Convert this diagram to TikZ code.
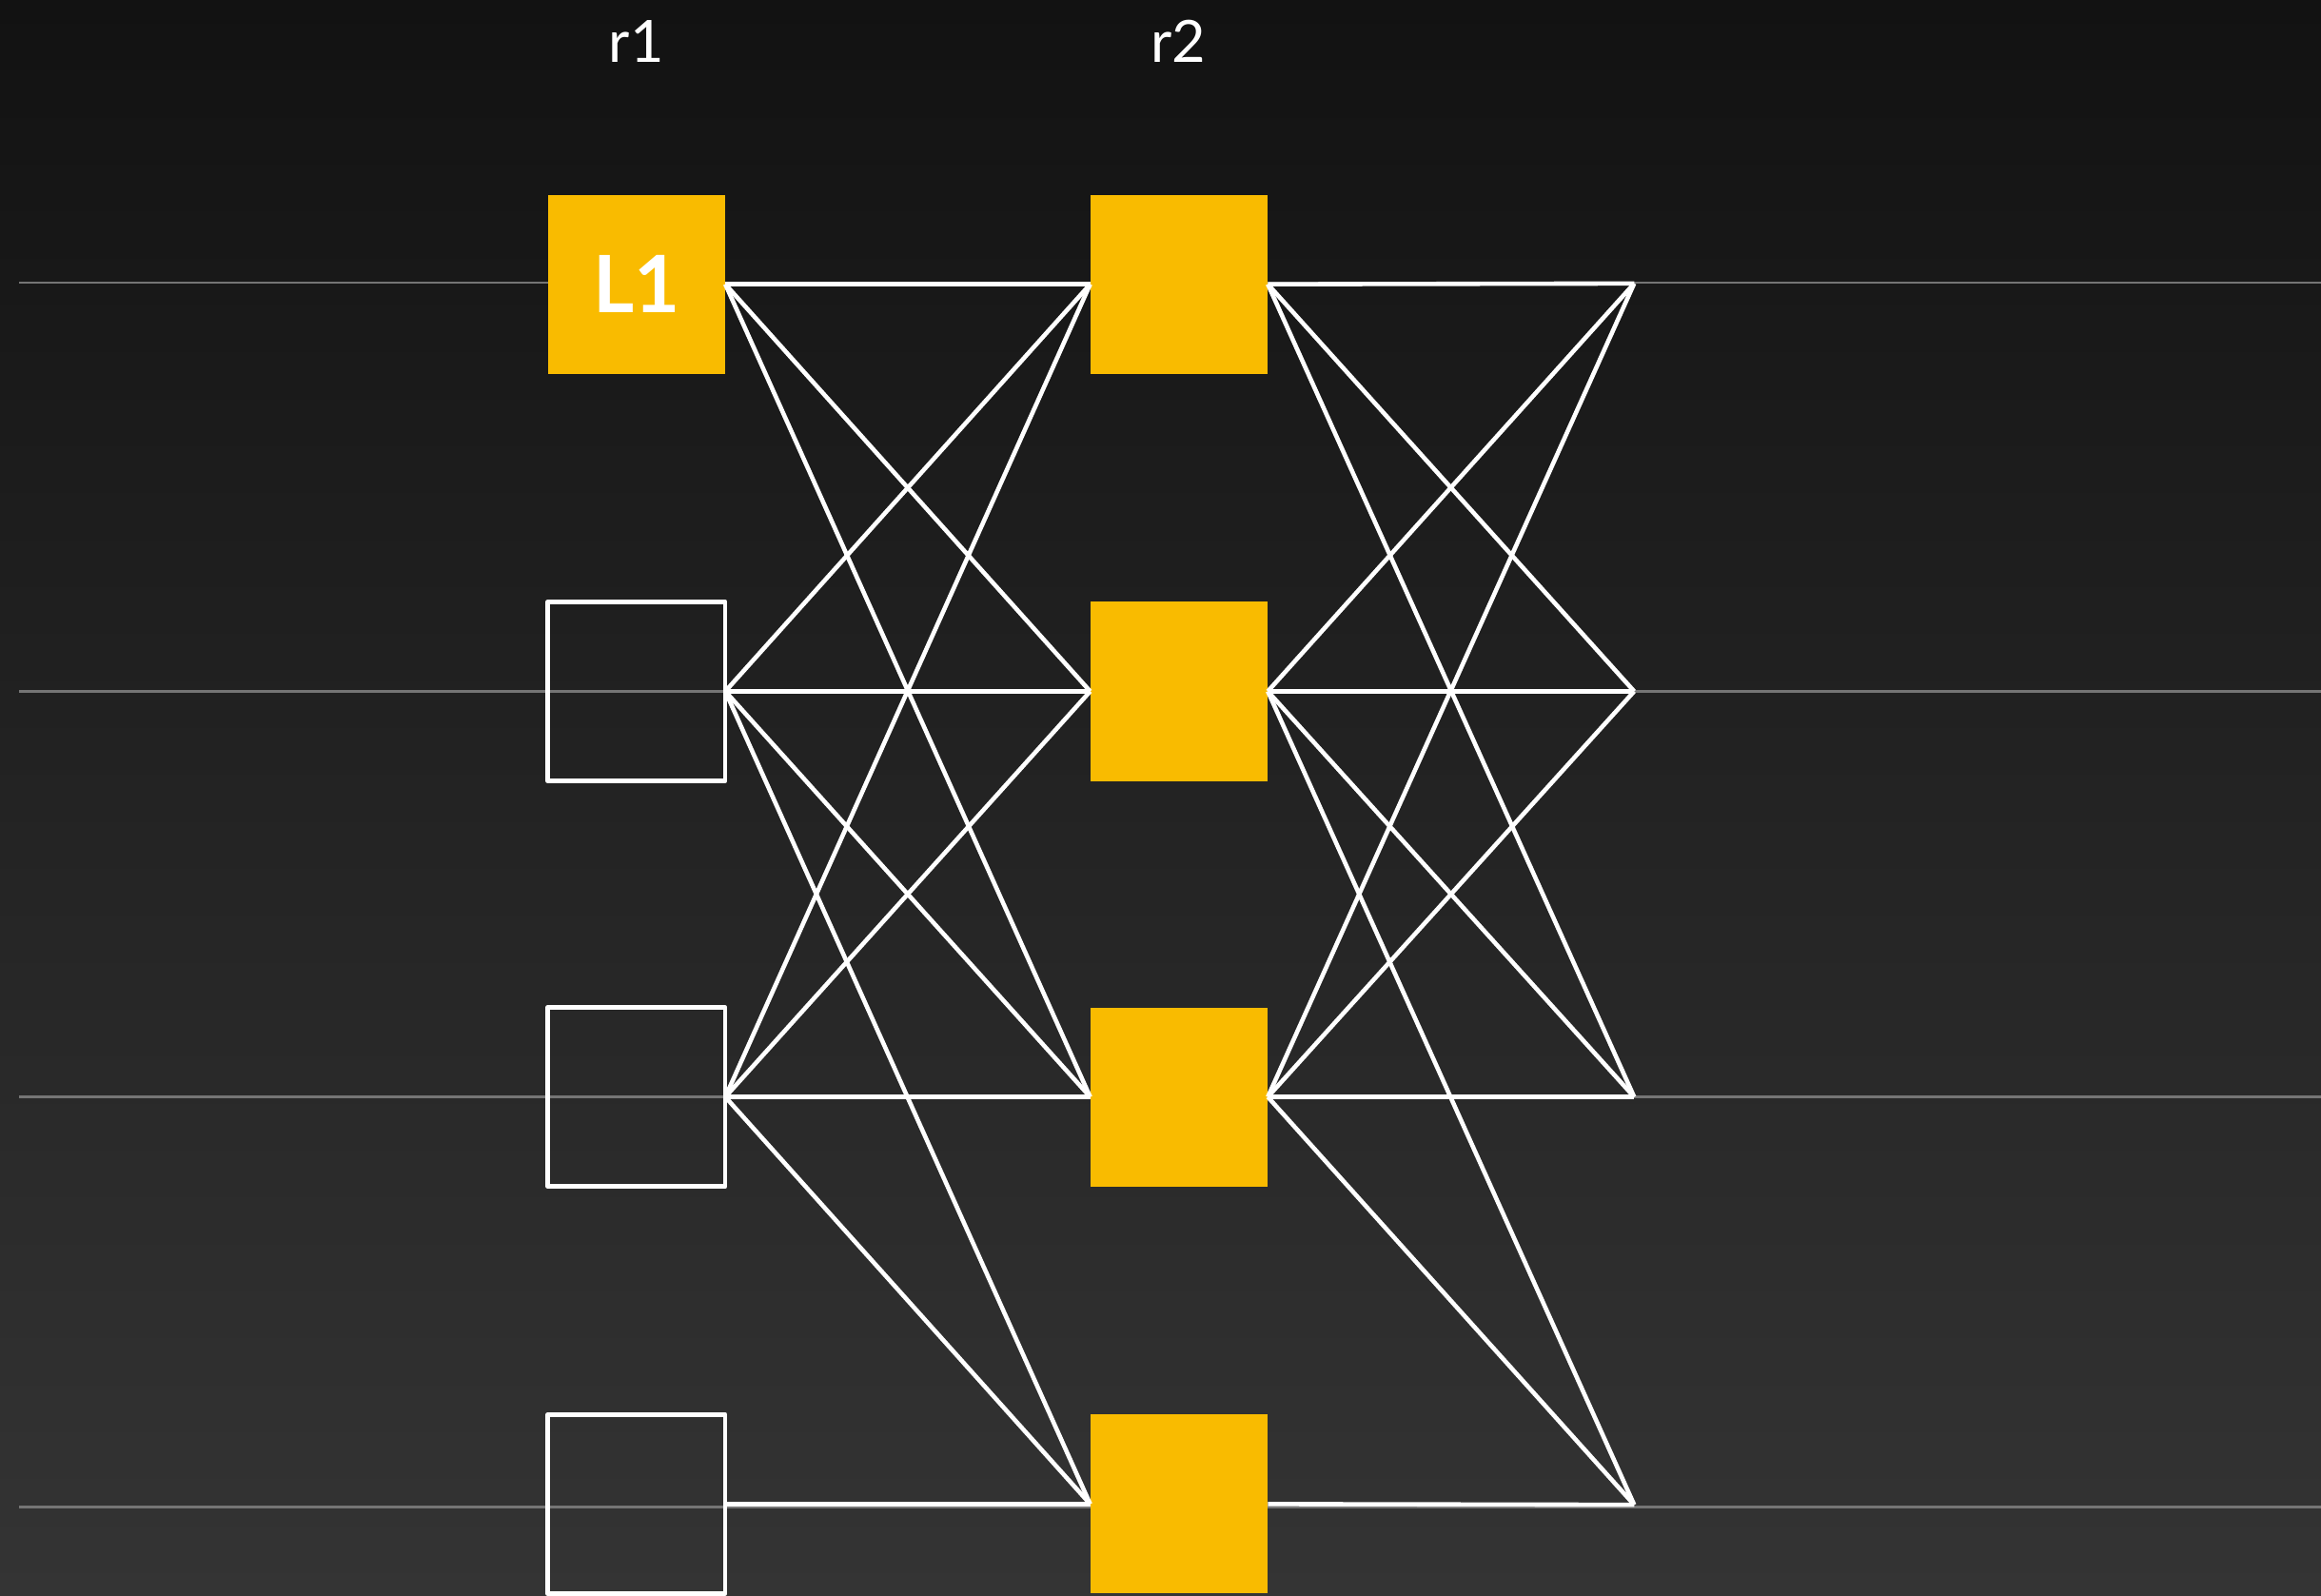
\documentclass[tikz,border=0pt]{standalone}
\usepackage{fontspec}
\setmainfont{Lato}
\definecolor{bgtop}{HTML}{121212}
\definecolor{bgbottom}{HTML}{343434}
\definecolor{guidegray}{HTML}{757575}
\definecolor{slotyellow}{HTML}{F9BB00}

\begin{document}
\begin{tikzpicture}[
  x=0.25mm,
  y=-0.25mm,
  line join=round,
  slot/.style={minimum width=30mm,minimum height=30.25mm,inner sep=0pt,outer sep=0pt},
  fullslot/.style={slot,fill=slotyellow,text=white,font=\bfseries\fontsize{38}{38}\selectfont},
  emptyslot/.style={slot,draw=white,line width=2.1pt},
  guide/.style={draw=guidegray,line width=1.1pt},
  link/.style={draw=white,line width=2.1pt},
  roundlabel/.style={text=white,font=\fontsize{28}{28}\selectfont}
]
  % Frame of the original artwork, dark gradient from top to bottom.
  \useasboundingbox (0,0) rectangle (1568,1078);
  \shade[top color=bgtop,bottom color=bgbottom] (0,0) rectangle (1568,1078);

  % Thin guide lines behind the four rows.
  \draw[guide] (13,191) -- (1568,191);
  \draw[guide] (13,467) -- (1568,467);
  \draw[guide] (13,741) -- (1568,741);
  \draw[guide] (13,1018) -- (1568,1018);

  % Round headers.
  \node[roundlabel] (headA) at (430,28) {r1};
  \node[roundlabel] (headB) at (796,28) {r2};

  % Round r1: one filled slot, three empty ones.
  \node[fullslot] (ra1) at (430,192) {L1};
  \node[emptyslot] (ra2) at (430,467) {};
  \node[emptyslot] (ra3) at (430,741) {};
  \node[emptyslot] (ra4) at (430,1016) {};

  % Round r2: all four slots filled.
  \node[fullslot] (rb1) at (796.5,192) {};
  \node[fullslot] (rb2) at (796.5,467) {};
  \node[fullslot] (rb3) at (796.5,741) {};
  \node[fullslot] (rb4) at (796.5,1016) {};

  % Open ends of the next round.
  \coordinate (rc1) at (1104,191.5);
  \coordinate (rc2) at (1104,467);
  \coordinate (rc3) at (1104,741);
  \coordinate (rc4) at (1104,1016.5);

  % Links r1 -> r2.
  \draw[link] (ra1.east) -- (rb1.west);
  \draw[link] (ra1.east) -- (rb2.west);
  \draw[link] (ra1.east) -- (rb3.west);
  \draw[link] (ra2.east) -- (rb1.west);
  \draw[link] (ra2.east) -- (rb2.west);
  \draw[link] (ra2.east) -- (rb3.west);
  \draw[link] (ra2.east) -- (rb4.west);
  \draw[link] (ra3.east) -- (rb1.west);
  \draw[link] (ra3.east) -- (rb2.west);
  \draw[link] (ra3.east) -- (rb3.west);
  \draw[link] (ra3.east) -- (rb4.west);
  \draw[link] (ra4.east) -- (rb4.west);

  % Links r2 -> next round.
  \draw[link] (rb1.east) -- (rc1);
  \draw[link] (rb1.east) -- (rc2);
  \draw[link] (rb1.east) -- (rc3);
  \draw[link] (rb2.east) -- (rc1);
  \draw[link] (rb2.east) -- (rc2);
  \draw[link] (rb2.east) -- (rc3);
  \draw[link] (rb2.east) -- (rc4);
  \draw[link] (rb3.east) -- (rc1);
  \draw[link] (rb3.east) -- (rc2);
  \draw[link] (rb3.east) -- (rc3);
  \draw[link] (rb3.east) -- (rc4);
  \draw[link] (rb4.east) -- (rc4);
\end{tikzpicture}
\end{document}
